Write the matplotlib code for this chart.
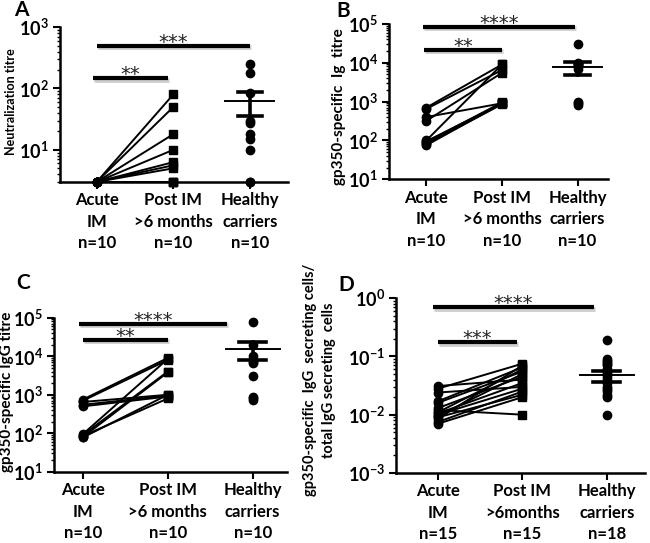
import numpy as np
import matplotlib
matplotlib.use("Agg")
import matplotlib.pyplot as plt
import matplotlib.transforms as mtransforms
from matplotlib.ticker import FixedLocator, LogLocator, NullFormatter, FuncFormatter

plt.rcParams['font.family'] = ['Lato', 'DejaVu Sans']
plt.rcParams['mathtext.fontset'] = 'custom'
plt.rcParams['mathtext.rm'] = 'Lato:bold'
plt.rcParams['mathtext.it'] = 'Lato:bold'

# ---- data ----
# Panel A: neutralization titre
a_acute = [3, 3, 3, 3, 3, 3, 3, 3, 3, 3]
a_post = [80, 50, 18, 10, 6.3, 5.6, 5, 3, 3, 3]
a_healthy = [250, 180, 85, 30, 27, 18, 15, 10, 3, 3]
a_mean, a_sem_lo, a_sem_hi = 62, 35, 89

# Panel B: gp350-specific Ig titre
b_acute = [700, 650, 400, 320, 100, 95, 90, 85, 80, 75]
b_post = [9000, 6500, 900, 5500, 9000, 900, 950, 900, 850, 900]
b_healthy = [30000, 10000, 9500, 9000, 8500, 8000, 7000, 1000, 900, 800]
b_mean, b_sem_lo, b_sem_hi = 7600, 4800, 10200

# Panel C: gp350-specific IgG titre
c_acute = [750, 700, 650, 550, 500, 95, 90, 85, 80, 78]
c_post = [9000, 8000, 1000, 950, 900, 8500, 4000, 800, 3800, 1000]
c_healthy = [77000, 19000, 10000, 8000, 7000, 6500, 3000, 900, 800, 750]
c_mean, c_sem_lo, c_sem_hi = 15000, 7900, 23500

# Panel D: fraction of gp350-specific IgG secreting cells
d_acute = [0.031, 0.028, 0.024, 0.017, 0.016, 0.013, 0.012, 0.011,
           0.0105, 0.010, 0.0095, 0.009, 0.0085, 0.0075, 0.007]
d_post = [0.040, 0.075, 0.030, 0.065, 0.055, 0.045, 0.010, 0.060,
          0.035, 0.028, 0.050, 0.022, 0.070, 0.025, 0.020]
d_healthy = [0.19, 0.09, 0.085, 0.08, 0.075, 0.07, 0.06, 0.055, 0.05,
             0.045, 0.04, 0.035, 0.03, 0.028, 0.025, 0.022, 0.02, 0.01]
d_mean, d_sem_lo, d_sem_hi = 0.048, 0.036, 0.057

labels_10 = ['Acute\nIM\nn=10', 'Post IM\n>6 months\nn=10', 'Healthy\ncarriers\nn=10']
labels_d = ['Acute\nIM\nn=15', 'Post IM\n>6months\nn=15', 'Healthy\ncarriers\nn=18']


def panel(ax, acute, post, healthy, mean, sem_lo, sem_hi, ylim, xlim,
          labels, ylabel, ylabel_size, ylabel_xy, bars, letter, letter_xy):
    ax.set_yscale('log')
    for a, p in zip(acute, post):
        ax.plot([0, 1], [a, p], color='black', lw=1.4, zorder=2, clip_on=False)
    ax.plot(np.zeros(len(acute)), acute, 'o', color='black', ms=6, clip_on=False, zorder=3)
    ax.plot(np.ones(len(post)), post, 's', color='black', ms=6, clip_on=False, zorder=3)
    ax.plot(np.full(len(healthy), 2), healthy, 'o', color='black', ms=6, clip_on=False, zorder=3)
    # mean +/- SEM
    ax.plot([2 - 0.32, 2 + 0.32], [mean, mean], color='black', lw=1.4, zorder=4)
    ax.plot([2 - 0.16, 2 + 0.16], [sem_lo, sem_lo], color='black', lw=2.6, zorder=4)
    ax.plot([2 - 0.16, 2 + 0.16], [sem_hi, sem_hi], color='black', lw=2.6, zorder=4)
    ax.plot([2, 2], [sem_lo, sem_hi], color='black', lw=2.6, zorder=4)

    ax.set_ylim(*ylim)
    ax.set_xlim(*xlim)
    ax.xaxis.set_major_locator(FixedLocator([0, 1, 2]))
    ax.set_xticklabels(labels, fontsize=12, fontweight='bold', linespacing=1.42)
    ax.yaxis.set_major_locator(LogLocator(base=10, numticks=10))
    ax.yaxis.set_minor_locator(LogLocator(base=10, subs=np.arange(2, 10), numticks=10))
    ax.yaxis.set_minor_formatter(NullFormatter())
    ax.yaxis.set_major_formatter(FuncFormatter(lambda v, pos: r'$10^{%d}$' % round(np.log10(v))))
    for t in ax.get_yticklabels():
        t.set_fontsize(13)
    ax.set_ylabel(ylabel, fontsize=ylabel_size, fontweight='bold', linespacing=1.5)
    ax.yaxis.set_label_coords(*ylabel_xy)
    for s in ['top', 'right']:
        ax.spines[s].set_visible(False)
    for s in ['left', 'bottom']:
        ax.spines[s].set_linewidth(1.8)
    ax.tick_params(axis='both', which='major', direction='out', width=1.5, length=5)
    ax.tick_params(axis='y', which='minor', direction='out', width=1.0, length=2.5)
    ax.tick_params(axis='x', pad=2.5)
    ax.tick_params(axis='y', pad=3)

    shadow = ax.transData + mtransforms.ScaledTranslation(1 / 100, -1.5 / 100, ax.figure.dpi_scale_trans)
    for x0, x1, y, stars in bars:
        ax.plot([x0, x1], [y, y], color='#cfcfcf', lw=3.5, solid_capstyle='butt',
                clip_on=False, zorder=1, transform=shadow)
        ax.plot([x0, x1], [y, y], color='black', lw=3, solid_capstyle='butt',
                clip_on=False, zorder=2)
        ax.annotate(stars, xy=((x0 + x1) / 2, y), xytext=(0, -1.5),
                    textcoords='offset points', ha='center', va='baseline',
                    fontsize=14, family='DejaVu Sans', color='#222222',
                    annotation_clip=False)
    ax.figure.text(letter_xy[0], letter_xy[1], letter, fontsize=15, fontweight='bold',
                   ha='left', va='center')


fig = plt.figure(figsize=(6.5, 5.43), dpi=100)
axA = fig.add_axes([0.0923, 0.665, 0.351, 0.285])
axB = fig.add_axes([0.598, 0.670, 0.337, 0.286])
axC = fig.add_axes([0.083, 0.131, 0.358, 0.284])
axD = fig.add_axes([0.609, 0.129, 0.383, 0.322])

panel(axA, a_acute, a_post, a_healthy, a_mean, a_sem_lo, a_sem_hi,
      (3, 1000), (-0.48, 2.5), labels_10, 'Neutralization titre', 9, (-0.189, 0.516),
      [(-0.05, 0.93, 146, '**'), (0, 2.0, 500, '***')], 'A', (0.022, 0.982))
panel(axB, b_acute, b_post, b_healthy, b_mean, b_sem_lo, b_sem_hi,
      (10, 1e5), (-0.5, 2.4), labels_10, 'gp350-specific  Ig  titre', 11, (-0.196, 0.47),
      [(-0.03, 1.0, 21500, '**'), (-0.05, 1.97, 84000, '****')], 'B', (0.518, 0.980))
panel(axC, c_acute, c_post, c_healthy, c_mean, c_sem_lo, c_sem_hi,
      (10, 1e5), (-0.34, 2.4), labels_10, 'gp350-specific IgG titre', 11, (-0.172, 0.52),
      [(0, 1.0, 27000, '**'), (-0.04, 1.7, 70000, '****')], 'C', (0.025, 0.478))
panel(axD, d_acute, d_post, d_healthy, d_mean, d_sem_lo, d_sem_hi,
      (1e-3, 1), (-0.5, 2.45), labels_d,
      'gp350-specific  IgG  secreting cells/\ntotal IgG secreting  cells', 10.5, (-0.24, 0.53),
      [(0, 0.93, 0.176, '***'), (-0.06, 1.85, 0.70, '****')], 'D', (0.521, 0.475))

fig.savefig('out.png', dpi=100)
